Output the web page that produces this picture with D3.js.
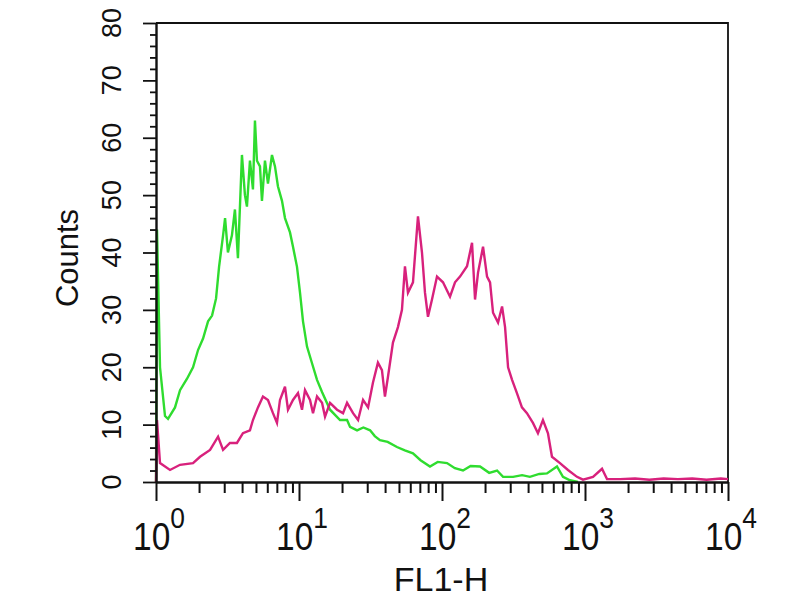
<!DOCTYPE html>
<html>
<head>
<meta charset="utf-8">
<script src="https://cdn.jsdelivr.net/npm/d3@7"></script>
<style>
  body { margin: 0; background: #fff; }
  text { font-family: "Liberation Sans", Arial, sans-serif; fill: #111; }
</style>
</head>
<body>
<svg width="800" height="600"></svg>
<script>
const greenExp = [0, 0.007, 0.028, 0.063, 0.084, 0.133, 0.168, 0.217, 0.259, 0.294, 0.329, 0.364,
  0.392, 0.42, 0.441, 0.469, 0.483, 0.503, 0.531, 0.552, 0.573, 0.601, 0.622, 0.636, 0.657,
  0.678, 0.692, 0.706, 0.727, 0.741, 0.762, 0.783, 0.811, 0.832, 0.853, 0.881, 0.902, 0.937,
  0.958, 0.986, 1.007, 1.028, 1.056, 1.091, 1.126, 1.161, 1.217, 1.287, 1.336, 1.357, 1.406,
  1.45, 1.497, 1.53, 1.566, 1.62, 1.685, 1.74, 1.797, 1.85, 1.916, 1.97, 2.035, 2.09, 2.147,
  2.2, 2.266, 2.33, 2.385, 2.427, 2.497, 2.56, 2.615, 2.68, 2.734, 2.804, 2.846, 2.895, 2.951];
const greenCounts = [0, 44, 20, 11.5, 11, 13, 16, 18, 20, 23, 25, 28,
  29, 32, 37.5, 43, 46, 40, 43, 47.5, 39, 57, 50, 48, 56,
  51, 63, 56, 55, 49, 56, 52, 57, 55, 51.5, 49, 46, 43.5,
  41, 37.5, 33, 28, 23.6, 20.7, 17.8, 15.7, 12.6, 10.8, 10.8, 9.6, 9,
  9.5, 9, 8, 7.3, 7, 6.1, 5.5, 5, 3.8, 2.7, 3.5, 3.3, 2.4, 2,
  2.8, 2.7, 1.6, 2, 0.9, 0.9, 1.2, 0.9, 1.4, 1.5, 2.7, 0.9, 0.3, 0];

const magentaExp = [0, 0.007, 0.028, 0.098, 0.168, 0.259, 0.308, 0.378, 0.434, 0.469, 0.517,
  0.566, 0.608, 0.657, 0.678, 0.713, 0.748, 0.783, 0.818, 0.846, 0.867, 0.902, 0.923, 0.958,
  0.993, 1.021, 1.042, 1.077, 1.098, 1.126, 1.161, 1.182, 1.217, 1.266, 1.308, 1.336, 1.378,
  1.413, 1.448, 1.483, 1.517, 1.552, 1.58, 1.601, 1.622, 1.657, 1.692, 1.72, 1.741, 1.762,
  1.797, 1.832, 1.86, 1.881, 1.902, 1.93, 1.965, 2.007, 2.056, 2.091, 2.126, 2.175, 2.21,
  2.231, 2.252, 2.287, 2.315, 2.336, 2.357, 2.392, 2.42, 2.441, 2.462, 2.49, 2.524, 2.559,
  2.594, 2.636, 2.671, 2.706, 2.741, 2.769, 2.825, 2.881, 2.944, 2.986, 3.056, 3.119, 3.154,
  3.245, 3.35, 3.45, 3.55, 3.65, 3.75, 3.85, 3.95, 4.0];
const magentaCounts = [0, 10.8, 3.3, 2.1, 3, 3.3, 4.4, 5.6, 7.9, 5.6, 6.8,
  6.8, 8.5, 9, 10.8, 13, 14.9, 14.3, 12, 10.3, 14.3, 16.6, 12.6, 14.3,
  15.5, 12.6, 16, 14.3, 12, 14.9, 13.8, 11.4, 13.8, 12.6, 12, 13.8, 12,
  10.8, 14.3, 13, 17.3, 20.8, 19.5, 14.9, 18.3, 24.3, 27, 30, 37.6, 33,
  34.8, 46.3, 40, 33, 28.8, 31.8, 35.8, 34.8, 32.3, 34.8, 35.8, 37.6, 41.7,
  31.8, 36.5, 41, 35.8, 34.8, 29.5, 27.8, 30.6, 27, 20, 17.8, 15.5, 13,
  12, 10.3, 8.5, 10.8, 8.5, 4.4, 3.3, 2.1, 0.9, 0.4, 0.9, 2.3, 0.5,
  0.5, 0.6, 0.4, 0.6, 0.5, 0.6, 0.4, 0.6, 0.5];

const xDecades = [0, 1, 2, 3, 4];
const yTicks = [0, 10, 20, 30, 40, 50, 60, 70, 80];

const svg = d3.select("svg");
const plotL = 156, plotR = 728, plotT = 23, plotB = 482;

const x = d3.scaleLog().domain([1, 10000]).range([plotL, plotR]);
const y = d3.scaleLinear().domain([0, 80]).range([plotB, plotT]);

// minor + major tick values for the log axis
let xTickVals = [];
xDecades.forEach(function(k) {
  for (let m = 1; m <= 9; m++) {
    const v = m * Math.pow(10, k);
    if (v <= 10000) xTickVals.push(v);
  }
});

// frame top + right
svg.append("path")
  .attr("d", `M${plotL},${plotT}H${plotR}V${plotB}`)
  .attr("fill", "none")
  .attr("stroke", "#111")
  .attr("stroke-width", 1.8);

// curves
const line = d3.line()
  .x(d => x(Math.pow(10, d[0])))
  .y(d => y(d[1]));

svg.append("path")
  .datum(greenExp.map((e, i) => [e, greenCounts[i]]))
  .attr("d", line)
  .attr("fill", "none")
  .attr("stroke", "#2fdc2f")
  .attr("stroke-width", 2.4);

svg.append("path")
  .datum(magentaExp.map((e, i) => [e, magentaCounts[i]]))
  .attr("d", line)
  .attr("fill", "none")
  .attr("stroke", "#d8217c")
  .attr("stroke-width", 2.4);

// x axis
const gx = svg.append("g")
  .attr("transform", `translate(0,${plotB})`)
  .call(d3.axisBottom(x).tickValues(xTickVals).tickSize(11).tickSizeOuter(0).tickFormat(""));
gx.select(".domain").attr("stroke", "#111").attr("stroke-width", 2.4);
gx.selectAll(".tick line").attr("stroke", "#111").attr("stroke-width", 2);
gx.selectAll(".tick").filter(d => Math.abs(Math.log10(d) - Math.round(Math.log10(d))) < 1e-9)
  .select("line").attr("y2", 19);

// y axis
const gy = svg.append("g")
  .attr("transform", `translate(${plotL},0)`)
  .call(d3.axisLeft(y).tickValues(d3.range(0, 81, 2)).tickSize(6).tickSizeOuter(0).tickFormat(""));
gy.select(".domain").attr("stroke", "#111").attr("stroke-width", 2.4);
gy.selectAll(".tick line").attr("stroke", "#111").attr("stroke-width", 1.8);
gy.selectAll(".tick").filter(d => d % 10 === 0).select("line").attr("x2", -13);

// x tick labels 10^k, slightly condensed like the original
xDecades.forEach(function(k) {
  const t = svg.append("text")
    .attr("transform", `translate(${x(Math.pow(10, k)) + 3},550) scale(0.88,1)`)
    .attr("text-anchor", "middle")
    .style("font-size", "38px");
  t.append("tspan").text("10");
  t.append("tspan").attr("dy", -22).style("font-size", "30px").text(k);
});

// y tick labels, rotated
yTicks.forEach(function(v) {
  svg.append("text")
    .attr("transform", `translate(121,${y(v)}) rotate(-90)`)
    .attr("text-anchor", "middle")
    .style("font-size", "27px")
    .text(v);
});

// axis titles
svg.append("text")
  .attr("x", 441)
  .attr("y", 591)
  .attr("text-anchor", "middle")
  .style("font-size", "34px")
  .text("FL1-H");

svg.append("text")
  .attr("transform", "translate(78,258) rotate(-90)")
  .attr("text-anchor", "middle")
  .style("font-size", "31px")
  .text("Counts");
</script>
</body>
</html>
